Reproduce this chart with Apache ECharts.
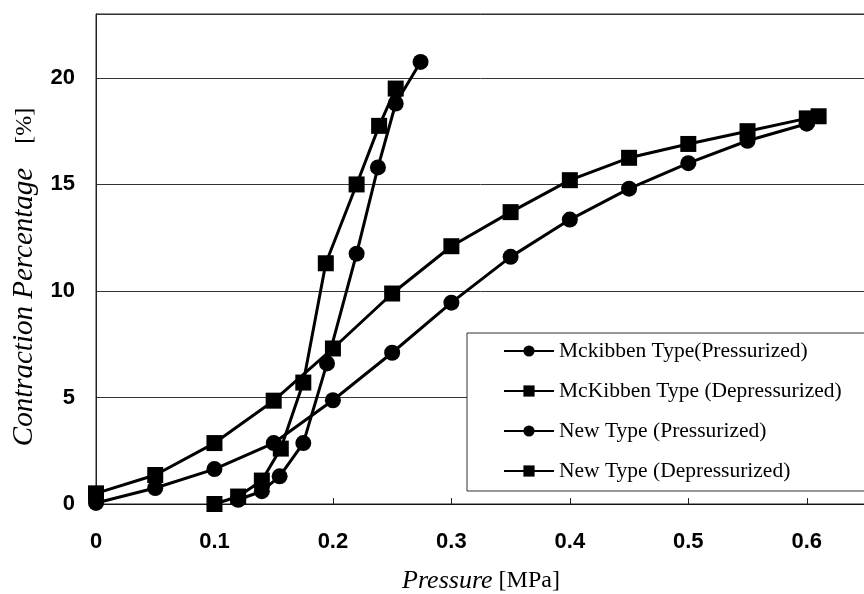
<!DOCTYPE html>
<html>
<head>
<meta charset="utf-8">
<script src="https://cdn.jsdelivr.net/npm/echarts@6/dist/echarts.min.js"></script>
<style>
  html, body { margin: 0; padding: 0; background: #fff; }
  #chart { width: 864px; height: 594px; }
</style>
</head>
<body>
<div id="chart"></div>
<script>
// legend names
const seriesNames = [
  'Mckibben Type(Pressurized)',
  'McKibben Type (Depressurized)',
  'New Type (Pressurized)',
  'New Type (Depressurized)'
];

// McKibben, pressurized (circles)
const mckPressX = [0, 0.05, 0.1, 0.15, 0.2, 0.25, 0.3, 0.35, 0.4, 0.45, 0.5, 0.55, 0.6];
const mckPressY = [0.05, 0.75, 1.64, 2.86, 4.87, 7.1, 9.45, 11.6, 13.35, 14.8, 16.0, 17.05, 17.85];

// McKibben, depressurized (squares)
const mckDepX = [0.61, 0.6, 0.55, 0.5, 0.45, 0.4, 0.35, 0.3, 0.25, 0.2, 0.15, 0.1, 0.05, 0];
const mckDepY = [18.2, 18.1, 17.5, 16.9, 16.25, 15.2, 13.7, 12.1, 9.88, 7.3, 4.85, 2.86, 1.36, 0.5];

// New type, pressurized (circles)
const newPressX = [0.12, 0.14, 0.155, 0.175, 0.195, 0.22, 0.238, 0.253, 0.274];
const newPressY = [0.2, 0.6, 1.3, 2.86, 6.6, 11.75, 15.8, 18.8, 20.75];

// New type, depressurized (squares)
const newDepX = [0.253, 0.239, 0.22, 0.194, 0.175, 0.156, 0.14, 0.12, 0.1];
const newDepY = [19.5, 17.75, 15.0, 11.3, 5.7, 2.6, 1.1, 0.35, 0.0];

const zip = (xs, ys) => xs.map((x, i) => [x, ys[i]]);

const tickFont = '"Liberation Sans", Arial, sans-serif';
const serifFont = '"Liberation Serif", "DejaVu Serif", serif';

const makeSeries = (name, data, symbol) => ({
  name: name,
  type: 'line',
  data: data,
  symbol: symbol,
  symbolSize: 16,
  showAllSymbol: true,
  clip: false,
  lineStyle: { color: '#000', width: 3 },
  itemStyle: { color: '#000' },
  emphasis: { disabled: true },
  z: 3
});

const chart = echarts.init(document.getElementById('chart'));

chart.setOption({
  animation: false,
  backgroundColor: '#fff',
  grid: {
    left: 96,
    right: -2,
    top: 14,
    bottom: 90,
    outerBoundsMode: 'none',
    containLabel: false,
    show: true,
    borderColor: '#222',
    borderWidth: 1,
    backgroundColor: 'transparent'
  },
  legend: {
    orient: 'vertical',
    left: 467,
    top: 333,
    padding: [7, 60, 9, 36],
    itemGap: 18,
    itemWidth: 50,
    itemHeight: 14,
    backgroundColor: '#fff',
    borderColor: '#333',
    borderWidth: 1,
    borderRadius: 0,
    selectedMode: false,
    data: seriesNames,
    textStyle: { fontFamily: serifFont, fontSize: 21.5, color: '#000' }
  },
  xAxis: {
    type: 'value',
    min: 0,
    max: 0.65,
    interval: 0.1,
    name: '{i|Pressure} [MPa]',
    nameLocation: 'middle',
    nameGap: 64,
    nameTextStyle: {
      fontFamily: serifFont,
      fontSize: 24,
      color: '#000',
      padding: [0, 0, 0, 0],
      rich: {
        i: { fontFamily: serifFont, fontSize: 26, fontStyle: 'italic', color: '#000' }
      }
    },
    axisLine: { show: true, lineStyle: { color: '#111', width: 1 } },
    axisTick: { show: true, inside: true, length: 6, lineStyle: { color: '#222' } },
    splitLine: { show: false },
    axisLabel: {
      showMaxLabel: false,
      margin: 27,
      fontFamily: tickFont,
      fontWeight: 'bold',
      fontSize: 22,
      color: '#000'
    }
  },
  yAxis: {
    type: 'value',
    min: 0,
    max: 23,
    interval: 5,
    name: '{i|Contraction Percentage}    [%]',
    nameLocation: 'middle',
    nameGap: 57,
    nameRotate: 90,
    nameTextStyle: {
      fontFamily: serifFont,
      fontSize: 24,
      color: '#000',
      padding: [0, 36, 0, 0],
      rich: {
        i: { fontFamily: serifFont, fontSize: 29, fontStyle: 'italic', color: '#000' }
      }
    },
    axisLine: { show: true, lineStyle: { color: '#222', width: 1 } },
    axisTick: { show: false },
    splitLine: { show: true, lineStyle: { color: '#333', width: 1 } },
    axisLabel: {
      showMaxLabel: false,
      margin: 21,
      fontFamily: tickFont,
      fontWeight: 'bold',
      fontSize: 22,
      color: '#000'
    }
  },
  series: [
    makeSeries(seriesNames[0], zip(mckPressX, mckPressY), 'circle'),
    makeSeries(seriesNames[1], zip(mckDepX, mckDepY), 'rect'),
    makeSeries(seriesNames[2], zip(newPressX, newPressY), 'circle'),
    makeSeries(seriesNames[3], zip(newDepX, newDepY), 'rect')
  ]
});
</script>
</body>
</html>
